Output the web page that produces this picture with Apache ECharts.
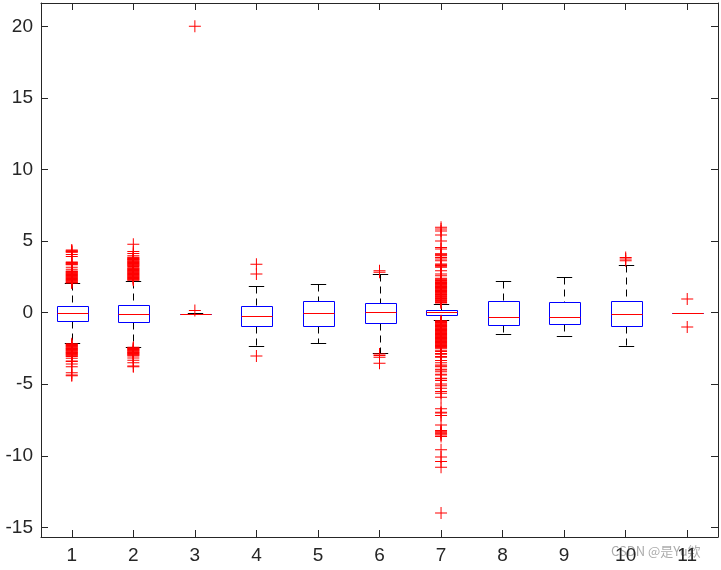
<!DOCTYPE html>
<html><head><meta charset="utf-8">
<script src="https://cdn.jsdelivr.net/npm/echarts@6/dist/echarts.min.js"></script>
<style>html,body{margin:0;padding:0;background:#fff}#c{width:721px;height:570px}</style>
</head><body><div id="c"></div>
<script>
const categories = ['1','2','3','4','5','6','7','8','9','10','11'];
const lowerWhisker = [-2.15, -2.39, -0.11, -2.32, -2.09, -2.79, -0.53, -1.49, -1.63, -2.30, 0.0];
const q1Values     = [-0.55, -0.67, -0.10, -0.93, -0.93, -0.70, -0.14, -0.86, -0.81, -0.95, 0.0];
const medianValues = [-0.02, -0.07, -0.09, -0.23,  0.00,  0.05,  0.03, -0.32, -0.28, -0.11, 0.0];
const q3Values     = [ 0.45,  0.52, -0.07,  0.47,  0.80,  0.68,  0.19,  0.82,  0.73,  0.80, 0.0];
const upperWhisker = [ 2.05,  2.23, -0.05,  1.88,  1.98,  2.68,  0.61,  2.21,  2.51,  3.35, 0.0];

const outliers1 = [4.37,4.33,4.29,4.25,4.22,4.07,3.93,3.54,3.50,3.46,3.42,3.38,3.35,3.17,3.03,2.91,2.87,2.83,2.79,2.75,2.71,2.67,2.63,2.59,2.55,2.51,2.47,2.43,2.39,2.35,2.31,2.27,2.23,2.19,2.15,2.11,2.08,
  -2.18,-2.22,-2.26,-2.30,-2.34,-2.38,-2.42,-2.46,-2.50,-2.54,-2.58,-2.62,-2.66,-2.70,-2.74,-2.78,-2.82,-2.86,-2.90,-2.94,-2.98,-3.02,-3.06,-3.18,-3.37,-3.42,-3.58,-3.77,-4.19,-4.35,-4.40];
const outliers2 = [4.77,4.28,4.14,3.98,3.87,3.83,3.79,3.75,3.71,3.67,3.63,3.59,3.55,3.51,3.47,3.43,3.39,3.35,3.31,3.27,3.23,3.14,3.10,3.06,3.02,2.98,2.94,2.90,2.86,2.82,2.78,2.74,2.70,2.66,2.62,2.58,2.54,2.50,2.46,2.42,2.38,2.34,2.30,2.26,
  -2.42,-2.46,-2.50,-2.54,-2.58,-2.62,-2.66,-2.70,-2.74,-2.78,-2.82,-2.86,-2.90,-2.94,-2.98,-3.02,-3.16,-3.32,-3.49,-3.72,-3.77];
const outliers3 = [20.0, 0.15];
const outliers4 = [3.38, 2.70, -3.02];
const outliers5 = [];
const outliers6 = [2.92, 2.82, -2.88, -3.00, -3.12, -3.53];
const outliers7 = [5.96,5.85,5.70,5.42,5.00,4.56,4.45,4.12,4.08,4.03,3.98,3.86,3.74,3.63,3.40,3.35,3.30,3.25,3.18,2.93,2.70,2.58,2.40,2.35,2.30,2.25,2.20,
  2.15,2.11,2.07,2.03,1.99,1.95,1.91,1.87,1.83,1.79,1.75,1.71,1.67,1.63,1.59,1.55,1.51,1.47,1.43,1.39,1.35,1.31,1.27,1.23,1.19,1.15,1.11,1.07,1.03,0.99,0.95,0.91,0.87,0.83,0.79,0.75,0.71,0.67,
  -0.57,-0.61,-0.65,-0.69,-0.73,-0.77,-0.81,-0.85,-0.89,-0.93,-0.97,-1.01,-1.05,-1.09,-1.13,-1.17,-1.21,-1.25,-1.29,-1.33,-1.37,-1.41,-1.45,-1.49,-1.53,-1.57,-1.61,-1.65,-1.69,-1.73,-1.77,-1.81,-1.85,-1.89,-1.93,-1.97,-2.01,-2.05,-2.09,-2.13,-2.17,-2.21,-2.25,-2.29,-2.33,-2.37,-2.41,-2.45,-2.48,
  -2.62,-2.72,-2.85,-2.90,-3.07,-3.12,-3.35,-3.50,-3.65,-3.72,-3.77,-3.95,-4.00,-4.12,-4.30,-4.35,-4.58,-4.62,-4.74,-4.98,-5.10,-5.28,-5.51,-5.63,-5.90,-6.72,-6.95,-7.00,-7.19,-7.84,-8.23,-8.28,-8.35,-8.42,-8.47,-8.55,-8.65,-9.58,-10.09,-10.40,-10.79,-14.0];
const outliers8 = [];
const outliers9 = [];
const outliers10 = [3.86, 3.75, 3.63];
const outliers11 = [0.96, -1.00];
const outlierGroups = [outliers1,outliers2,outliers3,outliers4,outliers5,outliers6,outliers7,outliers8,outliers9,outliers10,outliers11];

const yMin = -15.67, yMax = 21.63;

const boxData = categories.map((c, i) => [i, lowerWhisker[i], q1Values[i], medianValues[i], q3Values[i], upperWhisker[i]]);
const outlierData = [];
outlierGroups.forEach((g, i) => g.forEach(v => outlierData.push([i, v])));

const crisp = v => Math.round(v) + 0.5;

function renderBox(params, api) {
  const i = api.value(0);
  const pLo = api.coord([i, api.value(1)]);
  const pQ1 = api.coord([i, api.value(2)]);
  const pMed = api.coord([i, api.value(3)]);
  const pQ3 = api.coord([i, api.value(4)]);
  const pHi = api.coord([i, api.value(5)]);
  const w = api.size([1, 0])[0];
  const bh = w * 0.25, ch = w * 0.125;
  const cx = crisp(pMed[0]);
  const yLo = crisp(pLo[1]), yQ1 = crisp(pQ1[1]), yMed = crisp(pMed[1]), yQ3 = crisp(pQ3[1]), yHi = crisp(pHi[1]);
  const dashed = () => ({stroke: '#000000', lineWidth: 1, lineDash: [7, 5], fill: 'none'});
  const solid = c => ({stroke: c, lineWidth: 1, lineDash: null, fill: 'none'});
  const bx1 = Math.round(cx - bh) + 0.5, bx2 = Math.round(cx + bh) + 0.5;
  return {type: 'group', children: [
    {type: 'line', z2: 1, shape: {x1: cx, y1: yHi, x2: cx, y2: yQ3}, style: dashed()},
    {type: 'line', z2: 1, shape: {x1: cx, y1: yQ1, x2: cx, y2: yLo}, style: dashed()},
    {type: 'line', z2: 2, shape: {x1: cx - ch, y1: yHi, x2: cx + ch, y2: yHi}, style: solid('#000000')},
    {type: 'line', z2: 2, shape: {x1: cx - ch, y1: yLo, x2: cx + ch, y2: yLo}, style: solid('#000000')},
    {type: 'polyline', z2: 3, shape: {points: [[bx1, yQ3], [bx2, yQ3], [bx2, yQ1], [bx1, yQ1], [bx1, yQ3]]}, style: solid('#0000ff')},
    {type: 'line', z2: 4, shape: {x1: bx1, y1: yMed, x2: bx2, y2: yMed}, style: solid('#ff0000')}
  ]};
}

const axisColor = '#262626';
const labelFont = {color: axisColor, fontSize: 19, fontFamily: '"Liberation Sans", Arial, sans-serif'};
const tickFmt = v => (Math.abs(v / 5 - Math.round(v / 5)) < 1e-6) ? String(Math.round(v)) : '';

const chart = echarts.init(document.getElementById('c'), null, {renderer: 'canvas'});
chart.setOption({
  animation: false,
  backgroundColor: '#fff',
  grid: {left: 41, right: 3, top: 3, bottom: 33, containLabel: false},
  xAxis: [
    {type: 'category', data: categories, position: 'bottom',
     axisLine: {show: true, onZero: false, lineStyle: {color: axisColor, width: 1}},
     axisTick: {show: true, inside: true, length: 7, alignWithLabel: true, lineStyle: {color: axisColor}},
     axisLabel: Object.assign({margin: 9}, labelFont),
     splitLine: {show: false}},
    {type: 'category', data: categories, position: 'top',
     axisLine: {show: true, onZero: false, lineStyle: {color: axisColor, width: 1}},
     axisTick: {show: true, inside: true, length: 7, alignWithLabel: true, lineStyle: {color: axisColor}},
     axisLabel: {show: false}, splitLine: {show: false}}
  ],
  yAxis: [
    {type: 'value', min: yMin, max: yMax, splitNumber: 7, position: 'left',
     axisLine: {show: true, onZero: false, lineStyle: {color: axisColor, width: 1}},
     axisTick: {show: true, inside: true, length: 7, lineStyle: {color: axisColor}},
     axisLabel: Object.assign({margin: 8, formatter: tickFmt, showMinLabel: true, showMaxLabel: true}, labelFont),
     splitLine: {show: false}},
    {type: 'value', min: yMin, max: yMax, splitNumber: 7, position: 'right',
     axisLine: {show: true, onZero: false, lineStyle: {color: axisColor, width: 1}},
     axisTick: {show: true, inside: true, length: 7, lineStyle: {color: axisColor}},
     axisLabel: {show: false}, splitLine: {show: false}}
  ],
  series: [
    {type: 'custom', xAxisIndex: 0, yAxisIndex: 0, renderItem: renderBox, data: boxData,
     encode: {x: 0, y: [1, 2, 3, 4, 5]}, silent: true, z: 2},
    {type: 'scatter', xAxisIndex: 0, yAxisIndex: 0, data: outlierData,
     symbol: 'path://M5.5 0H6.5V5.5H12V6.5H6.5V12H5.5V6.5H0V5.5H5.5Z', symbolSize: 12,
     itemStyle: {color: '#ff0000', opacity: 1}, silent: true, z: 3}
  ],
  graphic: [
    {type: 'text', left: 611, top: 545, silent: true,
     style: {text: 'CSDN @是Yu欸', fill: 'rgba(150,150,150,0.8)', font: '13px "Noto Sans CJK SC", sans-serif'}}
  ]
});
</script>
</body></html>
